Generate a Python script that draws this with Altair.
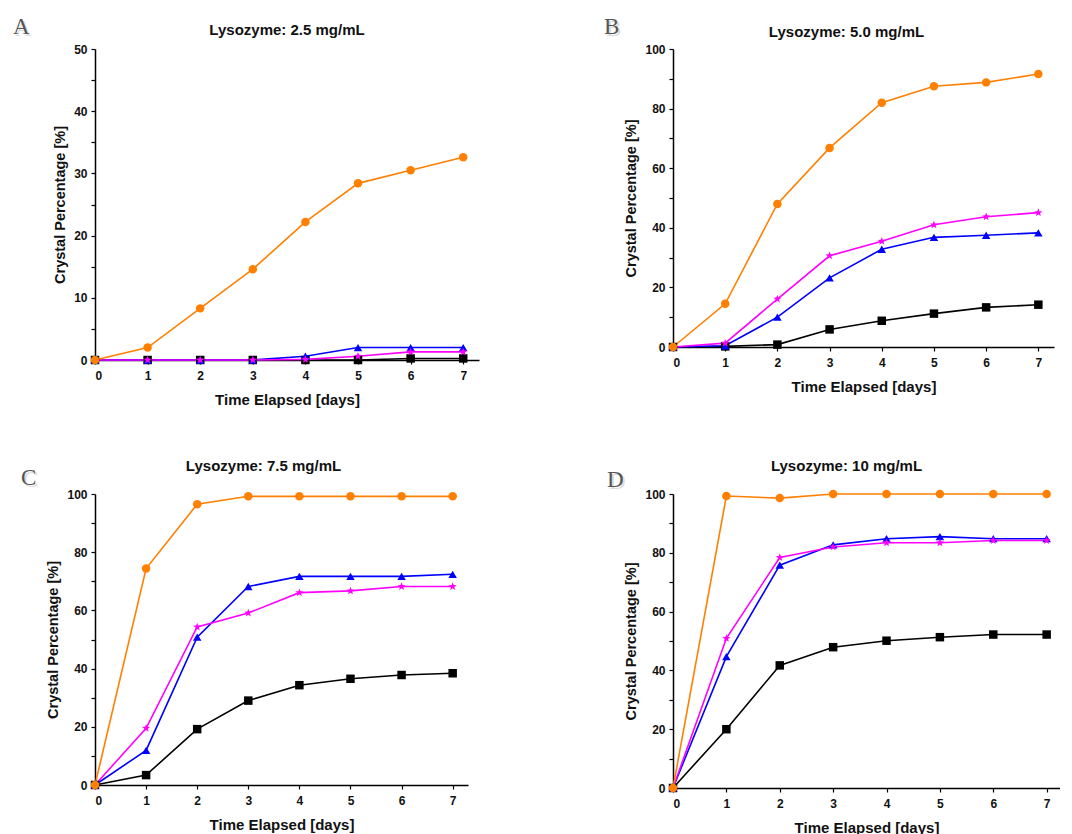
import math
import altair as alt
import pandas as pd

# ---------------- data ----------------
days = [0, 1, 2, 3, 4, 5, 6, 7]
series_names = ["Square", "Triangle", "Star", "Circle"]
series_colors = ["#000000", "#0000FF", "#FF00FF", "#FF8000"]

panel_titles = ["Lysozyme: 2.5 mg/mL", "Lysozyme: 5.0 mg/mL",
                "Lysozyme: 7.5 mg/mL", "Lysozyme: 10 mg/mL"]
panel_letters = ["A", "B", "C", "D"]

a_circle = [0, 2.0, 8.3, 14.6, 22.2, 28.4, 30.5, 32.6]
a_triangle = [0, 0, 0, 0, 0.6, 2.0, 2.0, 2.0]
a_star = [0, 0, 0, 0, 0.1, 0.6, 1.3, 1.3]
a_square = [0, 0, 0, 0, 0, 0, 0.25, 0.25]

b_circle = [0, 14.5, 48.0, 66.8, 82.0, 87.5, 88.8, 91.6]
b_triangle = [0, 0.4, 10.0, 23.2, 32.8, 36.8, 37.5, 38.3]
b_star = [0, 1.3, 16.1, 30.6, 35.5, 41.0, 43.7, 45.1]
b_square = [0, 0.2, 0.8, 5.9, 8.8, 11.2, 13.3, 14.2]

c_circle = [0, 74.4, 96.5, 99.2, 99.2, 99.2, 99.2, 99.2]
c_triangle = [0, 11.9, 50.8, 68.2, 71.7, 71.7, 71.7, 72.4]
c_star = [0, 19.5, 54.3, 59.1, 66.1, 66.7, 68.2, 68.2]
c_square = [0, 3.4, 19.2, 29.0, 34.3, 36.5, 37.8, 38.4]

d_circle = [0, 99.3, 98.6, 100, 100, 100, 100, 100]
d_triangle = [0, 44.7, 75.8, 82.7, 84.8, 85.5, 84.8, 84.8]
d_star = [0, 50.9, 78.4, 82.0, 83.4, 83.4, 84.2, 84.2]
d_square = [0, 20.0, 41.7, 47.9, 50.1, 51.3, 52.2, 52.2]

panel_values = [
    [a_square, a_triangle, a_star, a_circle],
    [b_square, b_triangle, b_star, b_circle],
    [c_square, c_triangle, c_star, c_circle],
    [d_square, d_triangle, d_star, d_circle],
]

# ---------------- styling ----------------
FONT = "Liberation Sans"
SERIF = "Liberation Serif"

# five-pointed star symbol path (unit coordinates)
_pts = []
for k in range(10):
    r = 1.0 if k % 2 == 0 else 0.42
    ang = -math.pi / 2 + k * math.pi / 5
    _pts.append(f"{r * math.cos(ang):.3f},{r * math.sin(ang):.3f}")
STAR = "M" + "L".join(_pts) + "Z"
series_shapes = ["square", "triangle-up", STAR, "circle"]

# layout (per panel): width, height, x max, y max, y step, title dx/dy, letter dx/dy
layout = [
    dict(w=384, h=311, xmax=7.3, ymax=50, ystep=5, lab=10, tdx=0, tdy=-14, ldx=-82, ldy=-33),
    dict(w=381, h=298, xmax=7.3, ymax=100, ystep=10, lab=20, tdx=-17, tdy=-12, ldx=-69, ldy=-33),
    dict(w=373, h=291, xmax=7.3, ymax=100, ystep=10, lab=20, tdx=-18, tdy=-23, ldx=-74, ldy=-27),
    dict(w=387, h=294, xmax=7.25, ymax=100, ystep=10, lab=20, tdx=-20, tdy=-23, ldx=-66, ldy=-25),
]


def make_panel(i):
    L = layout[i]
    rows = []
    for name, vals in zip(series_names, panel_values[i]):
        for d, v in zip(days, vals):
            rows.append({"day": d, "pct": v, "series": name})
    df = pd.DataFrame(rows)

    xvals = [k / 2 for k in range(0, 15)]
    yvals = list(range(0, L["ymax"] + 1, L["ystep"]))

    x = alt.X(
        "day:Q",
        scale=alt.Scale(domain=[0, L["xmax"]], nice=False, zero=False),
        axis=alt.Axis(
            title="Time Elapsed [days]",
            values=xvals,
            labelExpr="datum.value % 1 == 0 ? datum.label : ''",
            format="d",
            tickSize=4,
            labelPadding=6,
            titlePadding=11,
            titleFontSize=15,
        ),
    )
    y = alt.Y(
        "pct:Q",
        scale=alt.Scale(domain=[0, L["ymax"]], nice=False),
        axis=alt.Axis(
            title="Crystal Percentage [%]",
            values=yvals,
            labelExpr=f"datum.value % {L['lab']} == 0 ? datum.label : ''",
            tickSize=4,
            labelPadding=4,
            titlePadding=6,
            titleFontSize=14.5,
        ),
    )
    color = alt.Color("series:N", scale=alt.Scale(domain=series_names, range=series_colors), legend=None)
    shape = alt.Shape("series:N", scale=alt.Scale(domain=series_names, range=series_shapes), legend=None)

    base = alt.Chart(df).encode(x=x, y=y, color=color)
    lines = base.mark_line(strokeWidth=1.6)
    pts = base.mark_point(filled=True, size=72, opacity=1).encode(shape=shape)

    letter_df = pd.DataFrame({"t": [panel_letters[i]]})
    shadow = alt.Chart(letter_df).mark_text(
        font=SERIF, fontSize=23, align="left", baseline="top", color="#d4d4d4", opacity=0.8
    ).encode(text="t:N", x=alt.value(L["ldx"] + 2), y=alt.value(L["ldy"] + 2))
    letter = alt.Chart(letter_df).mark_text(
        font=SERIF, fontSize=23, align="left", baseline="top", color="#555555"
    ).encode(text="t:N", x=alt.value(L["ldx"]), y=alt.value(L["ldy"]))

    title_df = pd.DataFrame({"t": [panel_titles[i]]})
    title = alt.Chart(title_df).mark_text(
        font=FONT, fontSize=15, fontWeight="bold", align="center",
        baseline="alphabetic", color="#111111",
    ).encode(text="t:N", x=alt.value(L["w"] / 2 + L["tdx"]), y=alt.value(L["tdy"]))

    return alt.layer(lines, pts, shadow, letter, title).properties(
        width=L["w"], height=L["h"]
    )


chart = (
    alt.concat(
        make_panel(0), make_panel(1), make_panel(2), make_panel(3),
        columns=2, spacing={"row": 134, "column": 194}, bounds="flush",
    )
    .properties(padding={"left": 5, "top": 8, "right": 0, "bottom": 0})
    .configure_view(stroke=None)
    .configure_axis(
        grid=False,
        domainColor="#000000",
        domainWidth=1.5,
        tickColor="#000000",
        tickWidth=1.2,
        labelFont=FONT,
        labelFontSize=12,
        labelFontWeight="bold",
        labelColor="#111111",
        titleFont=FONT,
        titleFontWeight="bold",
        titleColor="#111111",
    )
)

chart.save("out.html", embed_options={"renderer": "svg", "actions": False})
